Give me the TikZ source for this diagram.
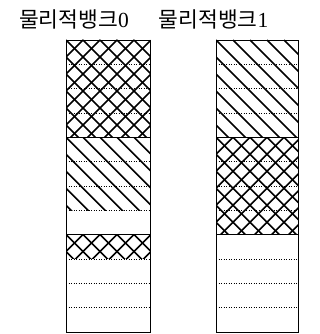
\documentclass[tikz,border=0pt]{standalone}
\usepackage{fontspec}
\newfontfamily\krfont{Noto Sans CJK KR}
\newfontfamily\numfont{Liberation Serif}
\tikzset{
  hatchline/.style={line width=1.6pt, line cap=butt},
  rowsep/.style={dotted, line width=0.5pt},
  divider/.style={line width=0.9pt},
  frame/.style={line width=0.9pt},
  banklabel/.style={inner sep=0pt, font=\fontsize{21.5}{22}\selectfont}
}
% diagonal "\" hatch in rectangle x1,y1 (top) to x2,y2 (bottom), pixel coords
\newcommand\diaghatch[4]{%
  \begin{scope}
    \clip (#1,#2) rectangle (#3,#4);
    \foreach \t in {-119,-102,...,119}{
      \draw[hatchline] ({#1+\t},#2) -- ++(200,200);
    }
  \end{scope}}
\newcommand\crosshatch[4]{%
  \begin{scope}
    \clip (#1,#2) rectangle (#3,#4);
    \foreach \t in {-119,-102,...,119}{
      \draw[hatchline] ({#1+\t},#2) -- ++(200,200);
    }
    \foreach \t in {0,17,...,238}{
      \draw[hatchline] ({#1+\t},#2) -- ++(-200,200);
    }
  \end{scope}}
\begin{document}
\begin{tikzpicture}[x=1pt,y=-1pt]
\useasboundingbox (0,0) rectangle (320,334);
\def\rh{24.33}
% labels
\node[banklabel] (lab0) at (74,19.5) {\krfont 물리적뱅크\numfont 0};
\node[banklabel] (lab1) at (213.5,19.5) {\krfont 물리적뱅크\numfont 1};
% left bank
\crosshatch{66}{40}{150}{137.3}
\diaghatch{66}{137.3}{150}{210.0}
\crosshatch{66}{234.6}{150}{258.9}
% right bank
\diaghatch{216}{40}{298}{137.3}
\crosshatch{216}{137.3}{298}{234.6}
% dotted row separators
\foreach \k in {1,2,3,5,6,7,9,10,11}{
  \draw[rowsep] (66,{40+\k*\rh}) -- (150,{40+\k*\rh});
  \draw[rowsep] (216,{40+\k*\rh}) -- (298,{40+\k*\rh});
}
% solid dividers
\foreach \k in {4,8}{
  \draw[divider] (66,{40+\k*\rh}) -- (150,{40+\k*\rh});
  \draw[divider] (216,{40+\k*\rh}) -- (298,{40+\k*\rh});
}
% frames
\draw[frame] (66,40) rectangle (150,332);
\draw[frame] (216,40) rectangle (298,332);
\end{tikzpicture}
\end{document}
